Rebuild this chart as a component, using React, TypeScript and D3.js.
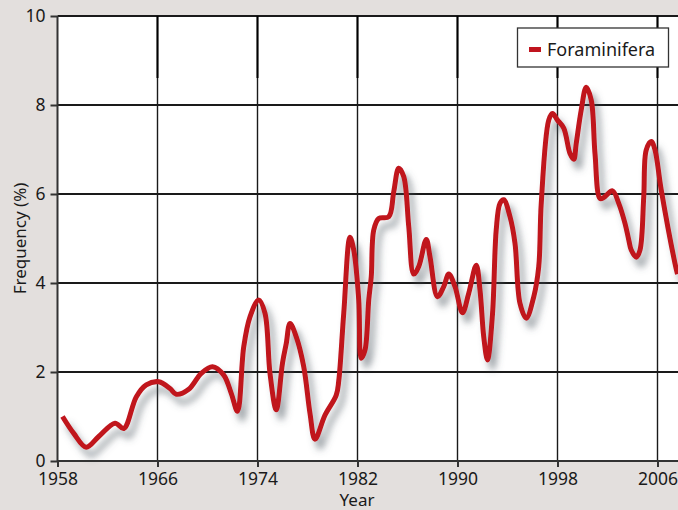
import { useEffect, useRef } from 'react'
import * as d3 from 'd3'

const years = [
  1958.4, 1959.3, 1960.3, 1961.3, 1962.6, 1963.3, 1964.3, 1965.1, 1966.1, 1967.0,
  1967.5, 1968.5, 1969.5, 1970.4, 1971.3, 1971.9, 1972.4, 1972.9, 1973.4, 1974.1,
  1974.6, 1975.0, 1975.5, 1976.0, 1976.3, 1976.6, 1977.1, 1977.7, 1978.2, 1978.6,
  1979.4, 1980.3, 1980.5, 1980.9, 1981.4, 1981.7, 1982.1, 1982.3, 1982.6, 1982.9,
  1983.1, 1983.3, 1983.7, 1984.5, 1984.9, 1985.3, 1985.7, 1986.1, 1986.5, 1986.9,
  1987.5, 1987.8, 1988.4, 1988.9, 1989.3, 1989.8, 1990.4, 1990.9, 1991.5, 1991.8,
  1992.1, 1992.4, 1992.8, 1993.1, 1993.4, 1993.7, 1994.2, 1994.6, 1995.0, 1995.5,
  1996.1, 1996.5, 1996.7, 1997.3, 1997.6, 1998.0, 1998.5, 1999.0, 1999.3, 1999.5,
  1999.9, 2000.3, 2000.7, 2001.0, 2001.4, 2001.7, 2002.4, 2002.9, 2003.4, 2003.7,
  2003.9, 2004.3, 2004.6, 2004.9, 2005.1, 2005.5, 2005.8, 2006.3, 2007.4, 2007.6,
]

const foraminifera = [
  1.0, 0.62, 0.31, 0.55, 0.85, 0.73, 1.44, 1.71, 1.78, 1.63,
  1.5, 1.61, 1.97, 2.12, 1.93, 1.52, 1.12, 2.57, 3.24, 3.62,
  3.32, 1.97, 1.15, 2.2, 2.64, 3.09, 2.79, 2.12, 1.07, 0.49,
  1.03, 1.48, 1.8, 3.32, 5.03, 4.74, 3.62, 2.31, 2.49, 3.62,
  4.14, 5.19, 5.45, 5.49, 6.05, 6.58, 6.39, 5.27, 4.2, 4.37,
  4.98, 4.59, 3.69, 3.92, 4.2, 3.92, 3.33, 3.77, 4.4, 3.84,
  2.79, 2.27, 3.3, 5.2, 5.79, 5.87, 5.49, 4.89, 3.54, 3.21,
  3.69, 4.37, 5.79, 7.66, 7.81, 7.66, 7.48, 6.91, 6.78, 7.14,
  7.89, 8.4, 8.11, 6.91, 5.9, 5.92, 6.07, 5.79, 5.34, 4.97,
  4.74, 4.58, 4.74, 5.94, 6.99, 7.18, 6.99, 6.09, 4.44, 4.2,
]

const xTicks = [1958, 1966, 1974, 1982, 1990, 1998, 2006]
const yTicks = [0, 2, 4, 6, 8, 10]

export default function App() {
  const svgRef = useRef<SVGSVGElement>(null)

  useEffect(() => {
    if (!svgRef.current) return
    const svg = d3.select(svgRef.current)
    svg.selectAll('*').remove()

    const width = 678
    const height = 510
    const left = 57.5
    const top = 16
    const bottom = 461
    const font = '"Noto Sans", sans-serif'

    svg.attr('width', width).attr('height', height)

    const x = d3.scaleLinear().domain([1958, 2006]).range([left, 657.5])
    const y = d3.scaleLinear().domain([0, 10]).range([bottom, top])

    const defs = svg.append('defs')
    const filter = defs.append('filter')
      .attr('id', 'shadow')
      .attr('x', '-10%').attr('y', '-10%')
      .attr('width', '130%').attr('height', '130%')
    filter.append('feDropShadow')
      .attr('dx', 5).attr('dy', 8)
      .attr('stdDeviation', 3.5)
      .attr('flood-color', '#4e5660')
      .attr('flood-opacity', 0.55)

    // background
    svg.append('rect').attr('width', width).attr('height', height).attr('fill', '#e3dfdd')
    svg.append('rect')
      .attr('x', left).attr('y', top)
      .attr('width', width - left).attr('height', bottom - top)
      .attr('fill', '#fff')

    // grid
    const grid = svg.append('g')
    grid.selectAll('.hgrid')
      .data(yTicks.slice(1))
      .enter()
      .append('line')
      .attr('x1', left).attr('x2', width)
      .attr('y1', d => y(d)).attr('y2', d => y(d))
      .attr('stroke', '#1a1a1a')
      .attr('stroke-width', 1.8)
    grid.selectAll('.vgrid')
      .data(xTicks.slice(1))
      .enter()
      .append('line')
      .attr('x1', d => x(d)).attr('x2', d => x(d))
      .attr('y1', top).attr('y2', bottom)
      .attr('stroke', '#1a1a1a')
      .attr('stroke-width', 1.4)
    grid.selectAll('.vtop')
      .data(xTicks.slice(1))
      .enter()
      .append('line')
      .attr('x1', d => x(d)).attr('x2', d => x(d))
      .attr('y1', top).attr('y2', 78)
      .attr('stroke', '#000')
      .attr('stroke-width', 2)

    // line
    const pts = years.map((yr, i) => [yr, foraminifera[i]] as [number, number])
    const line = d3.line<[number, number]>()
      .x(d => x(d[0]))
      .y(d => y(d[1]))
      .curve(d3.curveCatmullRom.alpha(0.5))
    svg.append('path')
      .datum(pts)
      .attr('d', line)
      .attr('fill', 'none')
      .attr('stroke', '#c0141e')
      .attr('stroke-width', 5)
      .attr('stroke-linejoin', 'round')
      .attr('stroke-linecap', 'butt')
      .attr('filter', 'url(#shadow)')

    // axes
    const xAxis = svg.append('g')
      .attr('transform', `translate(0,${bottom})`)
      .call(d3.axisBottom(x).tickValues(xTicks).tickFormat(d3.format('d')).tickSize(6).tickPadding(6))
    xAxis.select('.domain').remove()
    xAxis.append('line')
      .attr('x1', left).attr('x2', width)
      .attr('stroke', '#333').attr('stroke-width', 2)
    xAxis.selectAll('.tick line').attr('stroke', '#333').attr('stroke-width', 2)
    xAxis.selectAll('text')
      .style('font-family', font)
      .style('font-size', '17.5px')
      .style('fill', '#1a1a1a')

    const yAxis = svg.append('g')
      .attr('transform', `translate(${left},0)`)
      .call(d3.axisLeft(y).tickValues(yTicks).tickSize(7).tickPadding(5))
    yAxis.select('.domain').remove()
    yAxis.append('line')
      .attr('y1', top).attr('y2', bottom)
      .attr('stroke', '#333').attr('stroke-width', 2)
    yAxis.selectAll('.tick line').attr('stroke', '#333').attr('stroke-width', 2)
    yAxis.selectAll('text')
      .attr('dy', '0.3em')
      .style('font-family', font)
      .style('font-size', '17.5px')
      .style('fill', '#1a1a1a')

    // axis labels
    svg.append('text')
      .attr('x', 357).attr('y', 506)
      .attr('text-anchor', 'middle')
      .style('font-family', font)
      .style('font-size', '17px')
      .style('fill', '#1a1a1a')
      .text('Year')

    svg.append('text')
      .attr('transform', `translate(26,${(top + bottom) / 2}) rotate(-90)`)
      .attr('text-anchor', 'middle')
      .style('font-family', font)
      .style('font-size', '17px')
      .style('fill', '#1a1a1a')
      .text('Frequency (%)')

    // legend
    const legend = svg.append('g')
    legend.append('rect')
      .attr('x', 517.5).attr('y', 28)
      .attr('width', 151).attr('height', 39)
      .attr('fill', '#fff')
      .attr('stroke', '#333')
      .attr('stroke-width', 1.3)
    legend.append('rect')
      .attr('x', 529).attr('y', 47)
      .attr('width', 12).attr('height', 5)
      .attr('fill', '#c0141e')
    legend.append('text')
      .attr('x', 547).attr('y', 55.5)
      .style('font-family', font)
      .style('font-size', '18px')
      .style('fill', '#1a1a1a')
      .text('Foraminifera')
  }, [])

  return (
    <div style={{ position: 'absolute', left: 0, top: 0 }}>
      <svg ref={svgRef} style={{ display: 'block' }} />
    </div>
  )
}
